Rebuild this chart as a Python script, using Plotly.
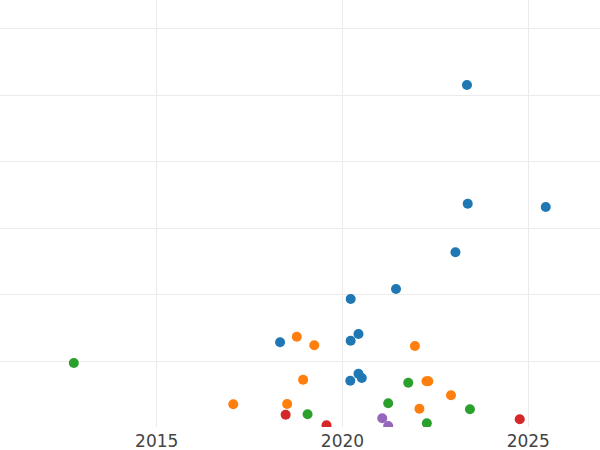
import plotly.graph_objects as go

# Series data (year, value)
blue_x = [2023.35, 2023.37, 2025.47, 2023.04, 2021.44, 2020.22, 2020.43, 2018.32, 2020.22, 2020.43, 2020.52, 2020.21]
blue_y = [51.5, 33.65, 33.16, 26.35, 20.83, 19.32, 14.06, 12.81, 13.05, 8.09, 7.44, 7.04]

orange_x = [2018.77, 2019.24, 2021.95, 2018.94, 2022.26, 2022.31, 2022.92, 2017.06, 2018.51, 2022.07]
orange_y = [13.65, 12.36, 12.26, 7.19, 6.95, 6.95, 4.84, 3.49, 3.53, 2.83]

green_x = [2012.77, 2021.77, 2021.23, 2019.06, 2023.43, 2022.27]
green_y = [9.70, 6.74, 3.64, 1.98, 2.74, 0.63]

red_x = [2018.47, 2019.57, 2024.77]
red_y = [1.92, 0.33, 1.23]

purple_x = [2021.07, 2021.23]
purple_y = [1.38, 0.23]

x_ticks = [2015, 2020, 2025]

series = [
    (blue_x, blue_y, "#1f77b4"),
    (orange_x, orange_y, "#ff7f0e"),
    (green_x, green_y, "#2ca02c"),
    (red_x, red_y, "#d62728"),
    (purple_x, purple_y, "#9467bd"),
]

fig = go.Figure()
for xs, ys, c in series:
    fig.add_trace(go.Scatter(x=xs, y=ys, mode="markers",
                             marker=dict(color=c, size=10, line=dict(width=0)),
                             showlegend=False))

fig.update_layout(
    width=600, height=450,
    margin=dict(l=0, r=0, t=0, b=23),
    paper_bgcolor="white", plot_bgcolor="white",
    template="none",
    font=dict(family="DejaVu Sans", size=17, color="#444"),
    xaxis=dict(range=[2010.783, 2026.93], tickvals=x_ticks, showgrid=True,
               gridcolor="#ebebeb", gridwidth=1, zeroline=False, showline=False,
               ticks="", automargin=False, ticklabelstandoff=2),
    yaxis=dict(range=[0.075, 64.285], dtick=10, tick0=0, showgrid=True,
               gridcolor="#ebebeb", gridwidth=1, zeroline=False, showline=False,
               showticklabels=False, ticks="", automargin=False),
)

fig.write_html("out.html", config={"displayModeBar": False},
               post_script="document.body.style.margin='0';document.body.style.overflow='hidden';")
